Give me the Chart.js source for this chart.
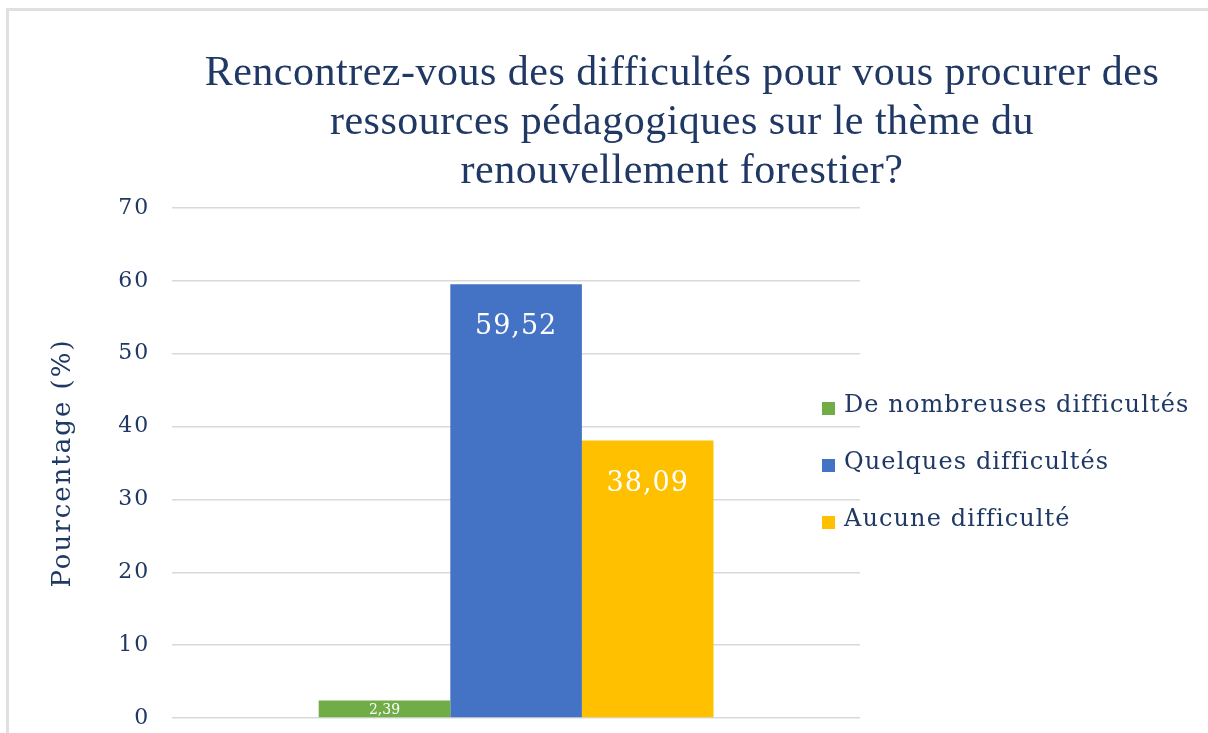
<!DOCTYPE html>
<html>
<head>
<meta charset="utf-8">
<script src="https://cdn.jsdelivr.net/npm/chart.js@4.4.1/dist/chart.umd.min.js"></script>
<style>
  html, body { margin: 0; padding: 0; background: #fff; }
  #frame { position: absolute; left: 6px; top: 8px; width: 1202px; height: 725px;
           border-top: 3px solid #e0e0e0; border-left: 3px solid #e0e0e0; }
  #wrap { position: absolute; left: 0; top: 0; width: 1208px; height: 733px; }
</style>
</head>
<body>
<div id="frame"></div>
<div id="wrap"><canvas id="plot"></canvas></div>
<script>
// chart data
const titleLines = [
  "Rencontrez-vous des difficultés pour vous procurer des",
  "ressources pédagogiques sur le thème du",
  "renouvellement forestier?"
];
const categories = [""];
const seriesNames = ["De nombreuses difficultés", "Quelques difficultés", "Aucune difficulté"];
const seriesValues = [2.39, 59.52, 38.09];
const seriesColors = ["#70AD47", "#4472C4", "#FFC000"];
const yTicks = [0, 10, 20, 30, 40, 50, 60, 70];
const yTitle = "Pourcentage (%)";

var textColor = "#1F3864";
var serif = "'Liberation Serif', serif";
var wideSerif = "'DejaVu Serif', serif";

// axis text is spaced out a bit like the original
const spacing = {
  id: "spacing",
  beforeDraw(chart) {
    chart.ctx.letterSpacing = "2px";
  },
};

// title drawn by hand so it can sit off-centre like the original
const titlePlugin = {
  id: "titleLines",
  afterDraw(chart) {
    const ctx = chart.ctx;
    ctx.save();
    ctx.letterSpacing = "0.5px";
    ctx.fillStyle = textColor;
    ctx.font = "42px " + serif;
    ctx.textAlign = "center";
    ctx.textBaseline = "alphabetic";
    titleLines.forEach((line, i) => {
      ctx.fillText(line, 682, 85 + i * 49);
    });
    ctx.restore();
  },
};

// white value labels inside the top of each bar
const valueLabels = {
  id: "valueLabels",
  afterDatasetsDraw(chart) {
    const ctx = chart.ctx;
    ctx.save();
    ctx.fillStyle = "#ffffff";
    ctx.textAlign = "center";
    ctx.textBaseline = "middle";
    chart.data.datasets.forEach((ds, i) => {
      const bar = chart.getDatasetMeta(i).data[0];
      const txt = ds.data[0].toFixed(2).replace(".", ",");
      const h = bar.base - bar.y;
      if (h > 60) {
        ctx.letterSpacing = "1px";
        ctx.font = "27px " + wideSerif;
        ctx.fillText(txt, bar.x, bar.y + 43);
      } else {
        ctx.letterSpacing = "0px";
        ctx.font = "14px " + wideSerif;
        ctx.fillText(txt, bar.x, bar.y + h / 2 + 1);
      }
    });
    ctx.restore();
  },
};

// legend overlapping the right end of the grid, as in the original
const sideLegend = {
  id: "sideLegend",
  afterDraw(chart) {
    const ctx = chart.ctx;
    const area = chart.chartArea;
    const mid = (area.top + area.bottom) / 2;
    ctx.save();
    ctx.letterSpacing = "1.1px";
    ctx.font = "24px " + wideSerif;
    ctx.textBaseline = "middle";
    ctx.textAlign = "left";
    chart.data.datasets.forEach((ds, i) => {
      const y = mid + (i - 1) * 57;
      ctx.fillStyle = ds.backgroundColor;
      ctx.fillRect(area.right - 38, y - 4, 13, 13);
      ctx.fillStyle = textColor;
      ctx.fillText(ds.label, area.right - 16, y);
    });
    ctx.restore();
  },
};

function plotChart() {
  const ctx = document.getElementById("plot").getContext("2d");
  const chart = new Chart(ctx, {
    type: "bar",
    data: {
      labels: categories,
      datasets: seriesNames.map((name, i) => ({
        label: name,
        data: [seriesValues[i]],
        backgroundColor: seriesColors[i],
        borderWidth: 0,
      })),
    },
    options: {
      responsive: true,
      maintainAspectRatio: false,
      animation: false,
      layout: {
        padding: { top: 208, left: 48, right: 348, bottom: 15 },
      },
      datasets: {
        bar: { categoryPercentage: 0.574, barPercentage: 1 },
      },
      plugins: {
        legend: { display: false },
        title: { display: false },
        tooltip: { enabled: false },
      },
      scales: {
        x: { display: false },
        y: {
          min: 0,
          max: 70,
          afterBuildTicks: (axis) => {
            axis.ticks = yTicks.map((v) => ({ value: v }));
          },
          afterFit: (axis) => {
            // tick padding is horizontal only here
            axis.paddingTop = 0;
            axis.paddingBottom = 0;
          },
          border: { display: false },
          grid: { color: "#d9d9d9", lineWidth: 1.5, drawTicks: false },
          ticks: {
            color: textColor,
            font: { family: wideSerif, size: 22 },
            padding: 22,
          },
          title: {
            display: true,
            text: yTitle,
            color: textColor,
            font: { family: wideSerif, size: 26 },
            padding: { top: 0, bottom: 21 },
          },
        },
      },
    },
    plugins: [spacing, titlePlugin, valueLabels, sideLegend],
  });
  return chart;
}

plotChart();
</script>
</body>
</html>
